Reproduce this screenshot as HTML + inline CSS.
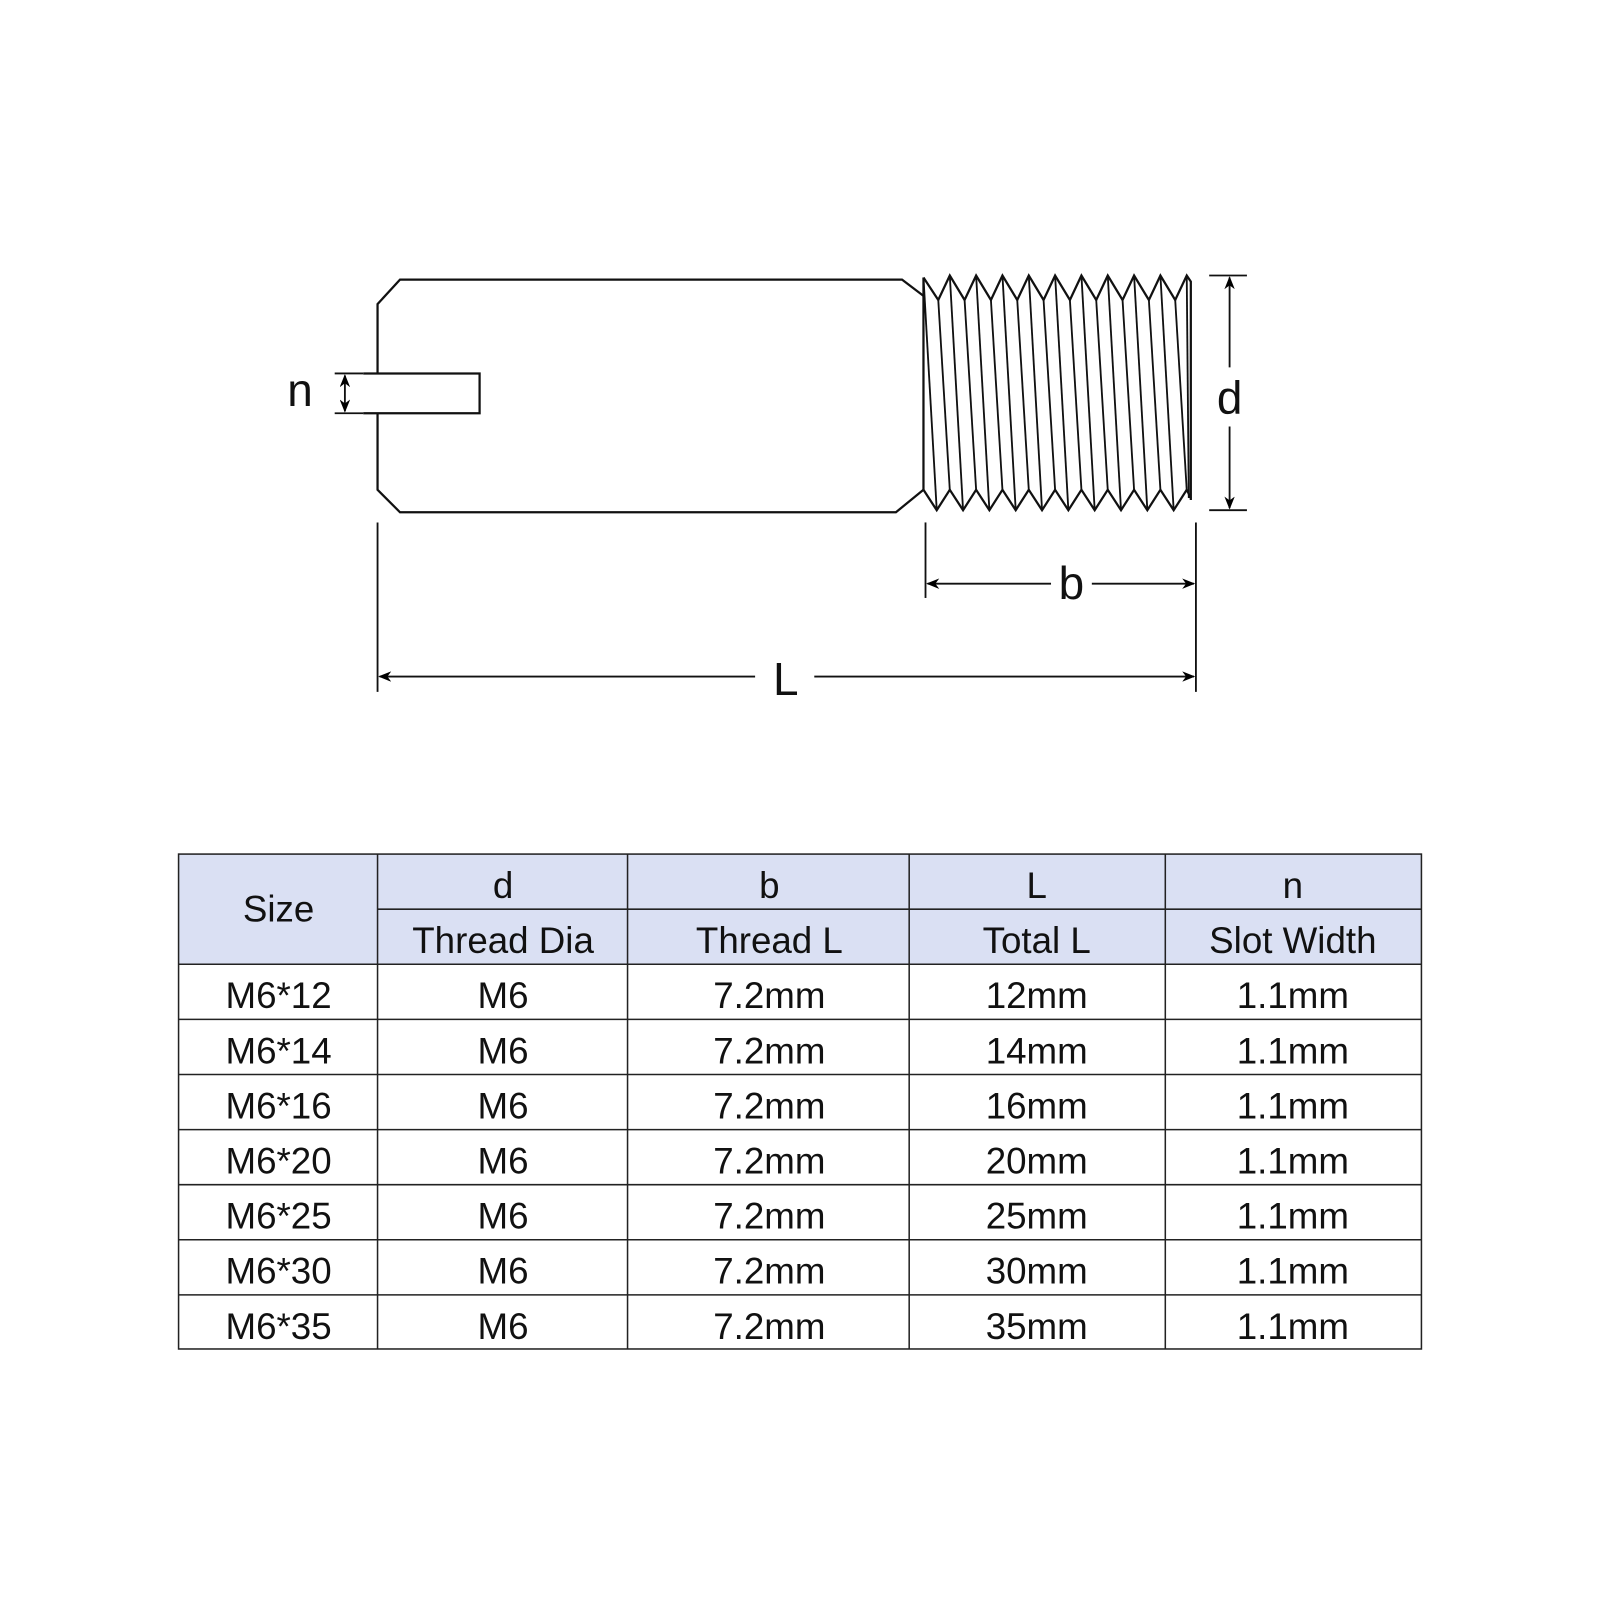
<!DOCTYPE html>
<html><head><style>html,body{margin:0;padding:0;background:#fff}svg{display:block}</style></head>
<body>
<svg width="1600" height="1600" viewBox="0 0 1568 1568" xmlns="http://www.w3.org/2000/svg" font-family="Liberation Sans, sans-serif">
<defs>
<marker id="a" viewBox="0 0 10 10" refX="10" refY="5" markerWidth="13" markerHeight="10" markerUnits="userSpaceOnUse" orient="auto-start-reverse"><path d="M0,1 L10,5 L0,9 L3,5 Z" fill="#000" stroke="#000" stroke-width="1"/></marker>
</defs>
<g fill="none" stroke="#111" stroke-width="2.2">
<polyline points="370,366 370,298 392,274 884,274 905,290"/>
<polyline points="370,405 370,480 392,502 878,502 905,480"/>
<polyline points="356,366 470,366 470,405 356,405"/>
<line x1="905" y1="272" x2="905" y2="480"/>
<polyline points="905,272 919.5,294 930.8,270 945.3,294 956.6,270 971.1,294 982.4,270 996.9,294 1008.2,270 1022.7,294 1034,270 1048.5,294 1059.8,270 1074.3,294 1085.6,270 1100.1,294 1111.4,270 1125.9,294 1137.2,270 1151.7,294 1163,270 1167,276 1167,490"/>
<polyline points="905,480 918,500 930.8,480 943.8,500 956.6,480 969.6,500 982.4,480 995.4,500 1008.2,480 1021.2,500 1034,480 1047,500 1059.8,480 1072.8,500 1085.6,480 1098.6,500 1111.4,480 1124.4,500 1137.2,480 1150.2,500 1163,480 1167,488"/>
<g stroke-width="1.8">
<line x1="905" y1="272" x2="918" y2="500"/><line x1="930.8" y1="270" x2="943.8" y2="500"/><line x1="956.6" y1="270" x2="969.6" y2="500"/><line x1="982.4" y1="270" x2="995.4" y2="500"/><line x1="1008.2" y1="270" x2="1021.2" y2="500"/><line x1="1034" y1="270" x2="1047" y2="500"/><line x1="1059.8" y1="270" x2="1072.8" y2="500"/><line x1="1085.6" y1="270" x2="1098.6" y2="500"/><line x1="1111.4" y1="270" x2="1124.4" y2="500"/><line x1="1137.2" y1="270" x2="1150.2" y2="500"/><line x1="1163" y1="270" x2="1165" y2="488"/>
<line x1="919.5" y1="294" x2="930.8" y2="480"/><line x1="945.3" y1="294" x2="956.6" y2="480"/><line x1="971.1" y1="294" x2="982.4" y2="480"/><line x1="996.9" y1="294" x2="1008.2" y2="480"/><line x1="1022.7" y1="294" x2="1034" y2="480"/><line x1="1048.5" y1="294" x2="1059.8" y2="480"/><line x1="1074.3" y1="294" x2="1085.6" y2="480"/><line x1="1100.1" y1="294" x2="1111.4" y2="480"/><line x1="1125.9" y1="294" x2="1137.2" y2="480"/><line x1="1151.7" y1="294" x2="1163" y2="480"/>
</g>
</g>
<g fill="none" stroke="#111" stroke-width="1.8">
<line x1="328" y1="366" x2="356" y2="366"/><line x1="328" y1="405" x2="356" y2="405"/>
<line x1="338" y1="368" x2="338" y2="403" marker-start="url(#a)" marker-end="url(#a)"/>
<line x1="1185" y1="270" x2="1222" y2="270"/><line x1="1185" y1="500" x2="1222" y2="500"/>
<line x1="1205" y1="272" x2="1205" y2="360" marker-start="url(#a)"/>
<line x1="1205" y1="418" x2="1205" y2="498" marker-end="url(#a)"/>
<line x1="907" y1="512" x2="907" y2="586"/><line x1="1172" y1="512" x2="1172" y2="678"/><line x1="370" y1="512" x2="370" y2="678"/>
<line x1="909" y1="572" x2="1030" y2="572" marker-start="url(#a)"/>
<line x1="1070" y1="572" x2="1170" y2="572" marker-end="url(#a)"/>
<line x1="372" y1="663" x2="740" y2="663" marker-start="url(#a)"/>
<line x1="798" y1="663" x2="1170" y2="663" marker-end="url(#a)"/>
</g>
<g font-size="45" fill="#111" text-anchor="middle">
<text x="294" y="398">n</text>
<text x="1205" y="405">d</text>
<text x="1050" y="587">b</text>
<text x="770" y="681">L</text>
</g>
<rect x="175" y="837" width="1218" height="108" fill="#dae0f3"/>
<g stroke="#222" stroke-width="1.5" fill="none">
<rect x="175" y="837" width="1218" height="485"/>
<line x1="370" y1="891" x2="1393" y2="891"/>
<line x1="175" y1="945" x2="1393" y2="945"/><line x1="175" y1="999" x2="1393" y2="999"/><line x1="175" y1="1053" x2="1393" y2="1053"/><line x1="175" y1="1107" x2="1393" y2="1107"/><line x1="175" y1="1161" x2="1393" y2="1161"/><line x1="175" y1="1215" x2="1393" y2="1215"/><line x1="175" y1="1269" x2="1393" y2="1269"/>
<line x1="370" y1="837" x2="370" y2="1322"/><line x1="615" y1="837" x2="615" y2="1322"/><line x1="891" y1="837" x2="891" y2="1322"/><line x1="1142" y1="837" x2="1142" y2="1322"/>
</g>
<g font-size="36" fill="#111" text-anchor="middle">
<text x="273" y="903">Size</text>
<text x="493" y="880">d</text><text x="754" y="880">b</text><text x="1016" y="880">L</text><text x="1267" y="880">n</text>
<text x="493" y="934">Thread Dia</text><text x="754" y="934">Thread L</text><text x="1016" y="934">Total L</text><text x="1267" y="934">Slot Width</text>
<text x="273" y="988">M6*12</text><text x="493" y="988">M6</text><text x="754" y="988">7.2mm</text><text x="1016" y="988">12mm</text><text x="1267" y="988">1.1mm</text>
<text x="273" y="1042">M6*14</text><text x="493" y="1042">M6</text><text x="754" y="1042">7.2mm</text><text x="1016" y="1042">14mm</text><text x="1267" y="1042">1.1mm</text>
<text x="273" y="1096">M6*16</text><text x="493" y="1096">M6</text><text x="754" y="1096">7.2mm</text><text x="1016" y="1096">16mm</text><text x="1267" y="1096">1.1mm</text>
<text x="273" y="1150">M6*20</text><text x="493" y="1150">M6</text><text x="754" y="1150">7.2mm</text><text x="1016" y="1150">20mm</text><text x="1267" y="1150">1.1mm</text>
<text x="273" y="1204">M6*25</text><text x="493" y="1204">M6</text><text x="754" y="1204">7.2mm</text><text x="1016" y="1204">25mm</text><text x="1267" y="1204">1.1mm</text>
<text x="273" y="1258">M6*30</text><text x="493" y="1258">M6</text><text x="754" y="1258">7.2mm</text><text x="1016" y="1258">30mm</text><text x="1267" y="1258">1.1mm</text>
<text x="273" y="1312">M6*35</text><text x="493" y="1312">M6</text><text x="754" y="1312">7.2mm</text><text x="1016" y="1312">35mm</text><text x="1267" y="1312">1.1mm</text>
</g>
</svg>
</body></html>
